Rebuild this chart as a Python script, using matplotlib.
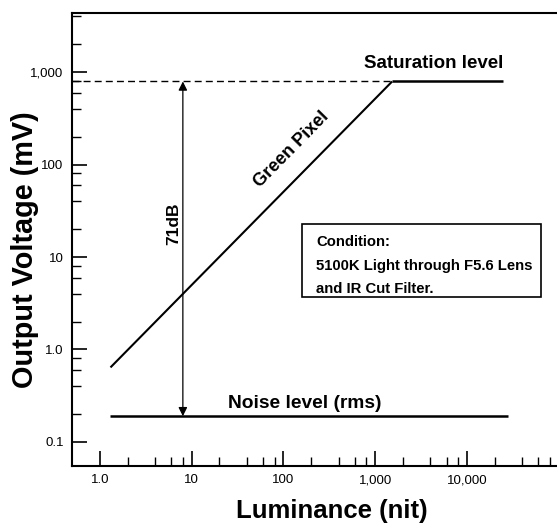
import numpy as np
import matplotlib
matplotlib.use('Agg')
import matplotlib.pyplot as plt
from matplotlib.ticker import FixedLocator, FixedFormatter

plt.rcParams['font.family'] = ['Liberation Sans', 'DejaVu Sans']

# data (log-log)
green_lum = [1.3, 1530]          # nit
green_mv = [0.64, 790]           # mV
sat_lum = [1530, 25000]
sat_mv = [790, 790]
dash_lum = [0.5, 1530]
dash_mv = [790, 790]
noise_lum = [1.3, 28000]
noise_mv = [0.19, 0.19]
arrow_lum = 8.0

x_major = [1, 10, 100, 1000, 10000]
x_labels = ['1.0', '10', '100', '1,000', '10,000']
y_major = [0.1, 1, 10, 100, 1000]
y_labels = ['0.1', '1.0', '10', '100', '1,000']
minor_mult = [2, 4, 6, 8]

fig = plt.figure(figsize=(5.57, 5.25), dpi=100)
ax = fig.add_axes([0.1293, 0.1124, 0.8707, 0.8628])
ax.set_xscale('log')
ax.set_yscale('log')
ax.set_xlim(0.495, 96000)
ax.set_ylim(0.055, 4345)

# curves
ax.plot(green_lum, green_mv, color='black', lw=1.5, solid_capstyle='butt')
ax.plot(sat_lum, sat_mv, color='black', lw=1.8, solid_capstyle='butt')
ax.plot(dash_lum, dash_mv, color='black', lw=1.0, ls=(0, (5, 3)))
ax.plot(noise_lum, noise_mv, color='black', lw=1.8, solid_capstyle='butt')

# 71 dB double arrow
ax.annotate('', xy=(arrow_lum, dash_mv[0]), xytext=(arrow_lum, noise_mv[0]),
            arrowprops=dict(arrowstyle='<|-|>', color='black', lw=0.9,
                            mutation_scale=13, shrinkA=0, shrinkB=0))

# labels on the chart
ax.text(6.3, 23, '71dB', rotation=90, fontsize=12.5, fontweight='bold',
        ha='center', va='center')
ax.text(122, 145, 'Green Pixel', rotation=45.5, fontsize=13, fontweight='bold',
        ha='center', va='center', rotation_mode='anchor')
ax.text(4390, 1250, 'Saturation level', fontsize=13.5, fontweight='bold',
        ha='center', va='center')
ax.text(172, 0.26, 'Noise level (rms)', fontsize=13.8, fontweight='bold',
        ha='center', va='center')

# condition box
box = plt.Rectangle((302 / 557, 1 - 297 / 525), (541 - 302) / 557, (297 - 224) / 525,
                    transform=fig.transFigure, fill=False, lw=1.2, color='black')
fig.patches.append(box)
cond_lines = ['Condition:', '5100K Light through F5.6 Lens', 'and IR Cut Filter.']
cond_y = [242, 266, 289]
for line, py in zip(cond_lines, cond_y):
    fig.text(316 / 557, 1 - py / 525, line, fontsize=10.7, fontweight='bold',
             ha='left', va='center')

# ticks
ax.xaxis.set_major_locator(FixedLocator(x_major))
ax.xaxis.set_major_formatter(FixedFormatter(x_labels))
ax.xaxis.set_minor_locator(FixedLocator([m * d for d in [1, 10, 100, 1000, 10000] for m in minor_mult]))
ax.yaxis.set_major_locator(FixedLocator(y_major))
ax.yaxis.set_major_formatter(FixedFormatter(y_labels))
ax.yaxis.set_minor_locator(FixedLocator([m * d for d in [0.1, 1, 10, 100, 1000] for m in minor_mult]))
ax.xaxis.set_minor_formatter(FixedFormatter([]))
ax.yaxis.set_minor_formatter(FixedFormatter([]))
ax.tick_params(which='major', direction='in', length=10.5, width=1.2, labelsize=9.5, pad=6)
ax.tick_params(which='minor', direction='in', length=6.5, width=1.0)
ax.tick_params(axis='y', which='major', pad=6)

for s in ['top', 'left', 'bottom']:
    ax.spines[s].set_linewidth(1.5)
ax.spines['right'].set_visible(False)

ax.set_xlabel('Luminance (nit)', fontsize=18.5, fontweight='bold', va='center')
ax.xaxis.set_label_coords(0.536, -0.099)
ax.set_ylabel('Output Voltage (mV)', fontsize=20.8, fontweight='bold', va='center')
ax.yaxis.set_label_coords(-0.097, 0.477)

fig.savefig('out.png', dpi=100)
